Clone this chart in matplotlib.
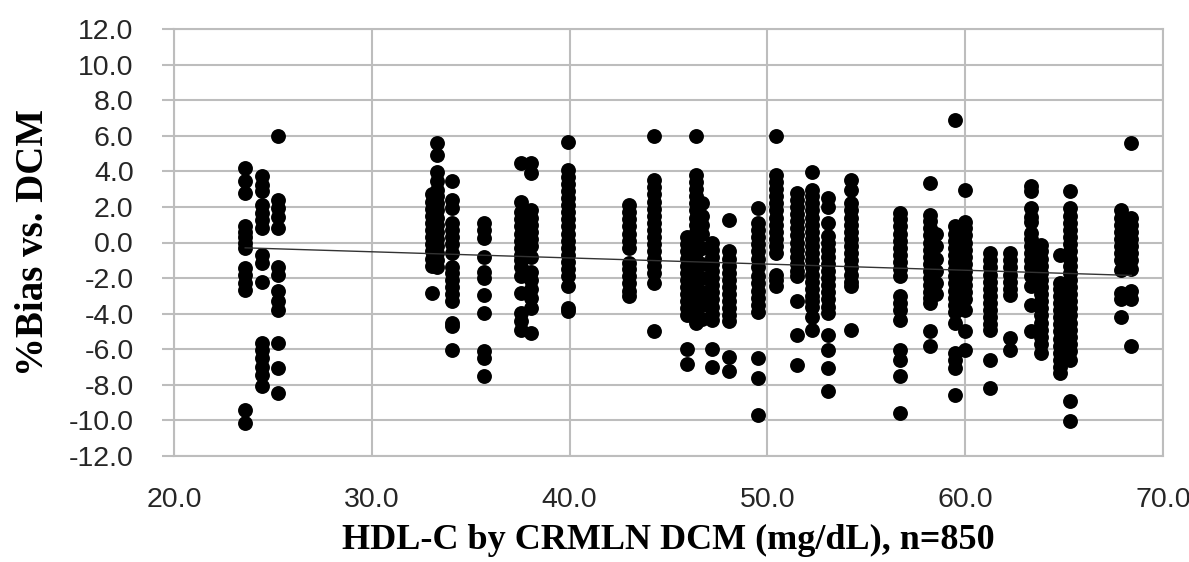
import numpy as np
import matplotlib
matplotlib.use('Agg')
import matplotlib.pyplot as plt

# HDL-C values of each column of results (mg/dL)
column_hdl = [23.6, 24.43, 25.28, 33.04, 33.29, 34.05, 35.69, 37.56, 38.07, 39.93,
              43.0, 44.26, 45.95, 46.37, 46.7, 47.2, 48.06, 49.55, 50.43, 51.5,
              52.28, 53.04, 54.22, 56.68, 58.2, 58.5, 59.46, 59.97, 61.23, 62.24,
              63.34, 63.84, 64.77, 65.31, 67.89, 68.4]

# %Bias values read for each column
column_bias = [
    [4.18, 3.43, 2.78, 0.9, 0.6, 0.3, 0.0, -0.31, -1.44, -1.81, -2.28, -2.66, -9.4, -10.15],
    [3.71, 3.24, 2.87, 2.12, 1.65, 1.28, 0.81, -0.69, -1.16, -2.22, -5.65, -6.03, -6.49,
     -6.97, -7.43, -8.09],
    [5.96, 2.4, 1.93, 1.46, 0.81, -1.35, -1.81, -2.75, -3.31, -3.78, -5.65, -7.06, -8.46],
    [2.7, 2.3, 1.9, 1.5, 1.1, 0.7, 0.3, -0.1, -0.5, -0.9, -1.3, -2.84],
    [5.58, 4.93, 3.99, 3.43, 2.96, 2.6, 2.2, 1.8, 1.4, 1.0, 0.6, 0.2, -0.2, -0.6, -1.0, -1.4],
    [3.43, 2.4, 1.93, 1.09, 0.7, 0.3, -0.1, -0.6, -1.35, -1.7, -2.1, -2.5, -2.9, -3.31,
     -4.53, -4.72, -6.03],
    [1.09, 0.71, 0.25, -0.79, -1.63, -2.0, -2.94, -3.97, -6.12, -6.49, -7.53],
    [4.49, 2.3, 1.74, 1.3, 0.9, 0.5, 0.1, -0.3, -0.7, -0.97, -1.35, -1.9, -2.84, -3.97,
     -4.4, -4.9],
    [4.46, 3.9, 1.84, 1.4, 1.0, 0.6, 0.2, -0.2, -0.79, -1.63, -2.1, -2.6, -3.1, -3.69, -5.09],
    [5.67, 4.08, 3.7, 3.3, 2.9, 2.5, 2.1, 1.7, 1.3, 0.9, 0.5, 0.1, -0.3, -0.7, -1.1, -1.5,
     -1.9, -2.47, -3.7, -3.85],
    [2.12, 1.7, 1.3, 0.9, 0.5, 0.1, -0.31, -1.16, -1.5, -1.9, -2.3, -2.7, -3.03],
    [5.96, 3.52, 3.1, 2.7, 2.3, 1.9, 1.5, 1.1, 0.7, 0.3, -0.1, -0.5, -0.9, -1.3, -1.7,
     -2.28, -5.0],
    [0.3, -0.1, -0.5, -0.9, -1.3, -1.7, -2.1, -2.5, -2.9, -3.3, -3.7, -4.1, -5.99, -6.81],
    [5.96, 3.8, 3.4, 3.0, 2.6, 2.2, 1.8, 1.4, 1.0, 0.6, 0.2, -0.2, -0.6, -1.0, -1.4, -1.8,
     -2.2, -2.6, -3.0, -3.4, -3.8, -4.34, -4.5],
    [2.2, 1.5, 1.0, 0.5, -0.3, -1.2, -2.0, -2.8, -3.5, -4.3],
    [-0.03, -0.4, -0.8, -1.2, -1.6, -2.0, -2.4, -2.8, -3.2, -3.6, -4.0, -4.34, -5.99, -6.97],
    [1.28, -0.5, -0.9, -1.3, -1.7, -2.1, -2.5, -2.9, -3.3, -3.7, -4.1, -4.44, -6.44, -7.25],
    [1.93, 1.1, 0.7, 0.3, -0.1, -0.5, -0.9, -1.35, -1.91, -2.3, -2.7, -3.1, -3.5, -3.88,
     -6.49, -7.62, -9.68],
    [5.96, 3.8, 3.4, 3.0, 2.6, 2.2, 1.8, 1.4, 1.0, 0.6, 0.2, -0.2, -0.6, -1.81, -2.1, -2.47],
    [2.8, 2.4, 2.0, 1.6, 1.2, 0.8, 0.4, 0.0, -0.4, -0.8, -1.2, -1.6, -1.9, -3.3, -5.2, -6.9],
    [3.99, 2.96, 2.6, 2.2, 1.8, 1.4, 1.0, 0.6, 0.2, -0.2, -0.6, -1.0, -1.4, -1.8, -2.2,
     -2.6, -3.0, -3.3, -3.6, -4.16, -4.9],
    [2.49, 2.02, 1.09, 0.34, 0.0, -0.4, -0.8, -1.2, -1.6, -2.0, -2.4, -2.8, -3.2, -3.6,
     -3.97, -5.19, -6.03, -7.06, -8.37],
    [3.52, 2.96, 2.21, 1.8, 1.4, 1.0, 0.6, 0.2, -0.2, -0.6, -1.0, -1.4, -1.8, -2.2, -2.47, -4.9],
    [1.65, 1.3, 0.9, 0.5, 0.1, -0.3, -0.7, -1.1, -1.5, -1.91, -3.03, -3.4, -3.8, -4.34,
     -6.03, -6.59, -7.53, -9.58],
    [3.34, 1.56, 1.2, 0.8, 0.4, 0.0, -0.4, -0.8, -1.2, -1.6, -2.0, -2.4, -2.8, -3.1, -3.4,
     -5.0, -5.84],
    [0.5, -0.2, -0.9, -1.6, -2.3, -2.9],
    [6.89, 0.9, 0.5, 0.1, -0.3, -0.7, -1.1, -1.5, -1.9, -2.3, -2.7, -3.1, -3.5, -3.9,
     -4.53, -6.2, -6.6, -7.04, -8.56],
    [2.96, 1.18, 0.8, 0.4, 0.0, -0.4, -0.8, -1.2, -1.6, -2.0, -2.4, -2.8, -3.2, -3.78,
     -5.0, -6.03],
    [-0.6, -1.0, -1.4, -1.8, -2.2, -2.6, -3.0, -3.4, -3.8, -4.2, -4.6, -4.9, -6.59, -8.18],
    [-0.6, -1.0, -1.4, -1.8, -2.2, -2.6, -2.94, -5.37, -6.03],
    [3.15, 2.87, 1.95, 1.46, 1.18, 0.53, 0.2, -0.2, -0.6, -1.0, -1.4, -1.91, -2.47, -3.5, -5.0],
    [-0.13, -0.5, -0.9, -1.3, -1.7, -2.1, -2.5, -2.9, -3.3, -3.7, -4.1, -4.5, -4.9, -5.3,
     -5.7, -6.2],
    [-0.69, -2.28, -2.6, -3.0, -3.4, -3.8, -4.2, -4.6, -5.0, -5.4, -5.8, -6.2, -6.6, -7.0, -7.34],
    [2.87, 1.93, 1.5, 1.1, 0.7, 0.3, -0.1, -0.5, -0.9, -1.3, -1.7, -2.1, -2.5, -2.9, -3.3,
     -3.7, -4.1, -4.5, -4.9, -5.3, -5.7, -6.1, -6.59, -8.93, -10.06],
    [1.84, 1.4, 1.0, 0.6, 0.2, -0.2, -0.6, -1.0, -1.53, -2.85, -3.2, -4.16],
    [5.58, 1.4, 1.0, 0.6, 0.2, -0.2, -0.6, -1.0, -1.5, -2.7, -3.2, -5.84],
]

# linear trend line end points
trend_x = [23.6, 68.4]
trend_y = [-0.3, -1.85]

x_ticks = [20.0, 30.0, 40.0, 50.0, 60.0, 70.0]
y_ticks = [-12.0, -10.0, -8.0, -6.0, -4.0, -2.0, 0.0, 2.0, 4.0, 6.0, 8.0, 10.0, 12.0]

# flatten the columns into x/y pairs
xs = []
ys = []
for hdl, biases in zip(column_hdl, column_bias):
    xs += [hdl] * len(biases)
    ys += biases

fig = plt.figure(figsize=(11.89, 5.62), dpi=100)
ax = fig.add_axes([174 / 1189, 1 - 456 / 562, (1163 - 174) / 1189, (456 - 29) / 562])

grid_col = '#bdbdbd'
ax.scatter(xs, ys, s=115, color='black', zorder=3, linewidths=0)
ax.plot(trend_x, trend_y, color='#333333', linewidth=1.0, zorder=4)

ax.set_xlim(20, 70)
ax.set_ylim(-12, 12)
ax.set_xticks(x_ticks)
ax.set_yticks(y_ticks)
ax.set_xticklabels([f'{v:.1f}' for v in x_ticks])
ax.set_yticklabels([f'{v:.1f}' for v in y_ticks])
ax.grid(True, color=grid_col, linewidth=1.5, zorder=0)
ax.set_axisbelow(True)
for sp in ax.spines.values():
    sp.set_color(grid_col)
    sp.set_linewidth(1.5)

ax.tick_params(axis='y', length=9, width=1.5, color=grid_col, pad=20, labelcolor='#262626')
ax.tick_params(axis='x', length=0, pad=22, labelcolor='#262626')
for lab in ax.get_xticklabels() + ax.get_yticklabels():
    lab.set_fontfamily('Liberation Sans')
    lab.set_fontsize(20.5)

ax.set_xlabel('HDL-C by CRMLN DCM (mg/dL), n=850', family='Liberation Serif',
              weight='bold', size=26, labelpad=8)
ax.set_ylabel('%Bias vs. DCM', family='Liberation Serif', weight='bold', size=28,
              labelpad=12)

fig.savefig('out.png', dpi=100)
